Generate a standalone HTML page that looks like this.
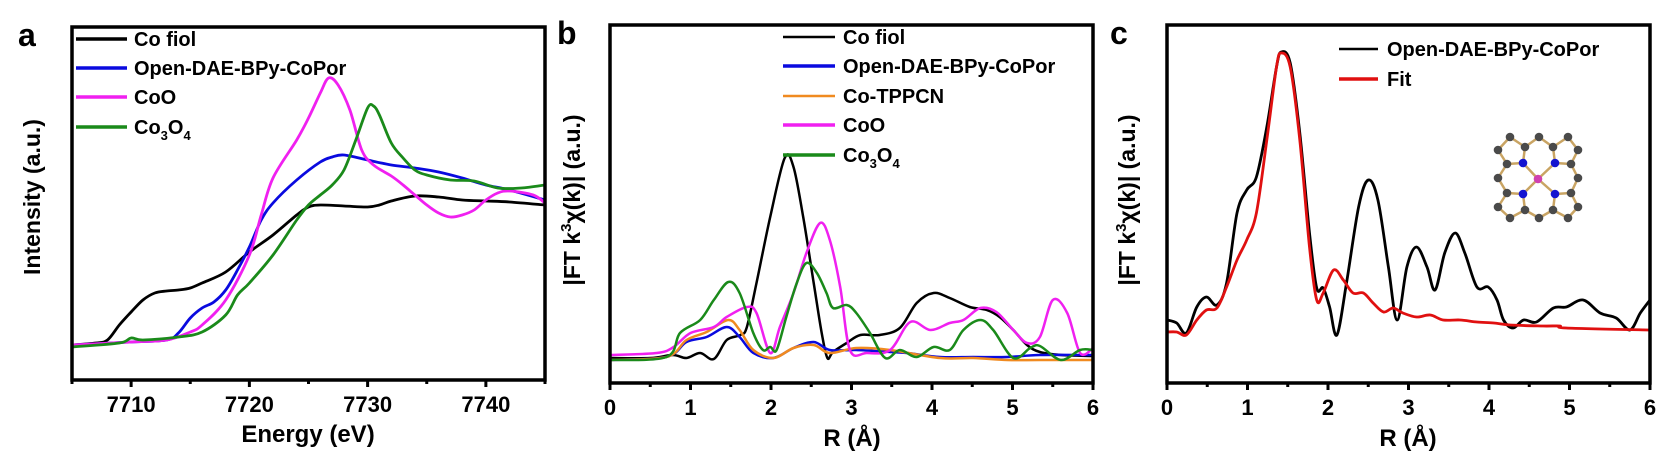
<!DOCTYPE html>
<html><head><meta charset="utf-8"><style>
html,body{margin:0;padding:0;background:#fff;}
svg{display:block;font-family:"Liberation Sans",Arial,sans-serif;font-weight:bold;}
</style></head><body>
<svg id="fig" width="1673" height="469" viewBox="0 0 1673 469" xmlns="http://www.w3.org/2000/svg">
<rect width="1673" height="469" fill="#fff"/>
<g id="pa"></g>
<g id="pb"></g>
<g id="pc"></g>
</svg>
<script>
// ---------- Panel a data (XANES) ----------
const aXTicks = [7710, 7720, 7730, 7740];
const aMinor = [7705, 7715, 7725, 7735, 7745];
const aCoFoilE = [7705,7707,7708,7709,7710,7711,7712,7713,7714,7715,7716,7718,7720,7722,7724,7725,7726,7728,7730,7731,7732,7734,7736,7738,7740,7742,7745];
const aCoFoilI = [35,37,40,55,68,80,87,89,90,92,97,108,128,145,165,173,175,174,173,175,179,184,183,180,179,178,175];
const aPorE = [7705,7710,7713,7714,7715,7716,7717,7718,7719,7720,7721,7722,7724,7726,7727,7728,7730,7732,7734,7736,7738,7740,7742,7745];
const aPorI = [35,38,40,47,62,72,78,90,110,133,160,177,200,218,223,225,220,215,212,208,202,195,190,180];
const aCoOE = [7705,7710,7713,7715,7716,7718,7720,7721,7722,7724,7725,7726,7726.7,7727.5,7728.5,7729.5,7730.5,7732,7733,7734,7735,7736,7737,7738,7739,7740,7741,7742,7744,7745];
const aCoOI = [35,38,40,48,55,80,125,165,202,240,262,287,302,295,270,230,215,204,195,185,175,167,163,165,170,180,187,189,185,177];
const aCo3O4E = [7705,7709,7710,7711,7714,7716,7718,7719,7720,7722,7724,7725,7726,7727,7728,7729,7730,7730.5,7731,7732,7733,7734,7735,7737,7739,7741,7743,7745];
const aCo3O4I = [33,37,42,40,43,48,65,85,97,125,160,175,185,195,210,240,272,274,265,237,222,210,205,200,199,192,192,195];

// ---------- Panel b data (FT-EXAFS) ----------
const bXTicks = [0,1,2,3,4,5,6];
const bMinor = [0.5,1.5,2.5,3.5,4.5,5.5];
const bFoilR = [0,0.5,0.78,0.95,1.12,1.29,1.45,1.62,1.70,1.82,1.99,2.17,2.28,2.40,2.53,2.63,2.70,2.77,2.94,3.11,3.35,3.60,3.81,4.02,4.22,4.47,4.68,4.84,5.01,5.18,5.34,5.6,6.0];
const bFoilV = [25,25,28,25,30,24,43,48,56,100,166,225,216,166,100,50,25,31,40,48,48,55,80,90,85,76,73,66,53,38,31,28,27];
const bPorR = [0,0.70,0.95,1.2,1.45,1.61,1.78,2.03,2.28,2.53,2.73,3.06,3.48,3.69,4.10,4.51,4.93,5.34,6.0];
const bPorV = [23,26,41,46,56,46,30,25,35,41,33,33,31,30,26,26,26,28,28];
const bTppR = [0,0.70,0.95,1.2,1.47,1.61,1.78,2.03,2.28,2.53,2.73,3.06,3.48,4.10,4.51,4.93,5.34,6.0];
const bTppV = [23,26,43,51,63,53,33,25,35,38,30,35,33,25,25,23,23,23];
const bCoOR = [0,0.58,0.79,1.0,1.29,1.45,1.70,1.82,1.99,2.11,2.28,2.44,2.61,2.73,2.86,2.98,3.19,3.48,3.73,3.98,4.22,4.39,4.60,4.80,5.01,5.18,5.34,5.5,5.68,5.84,6.0];
const bCoOV = [28,30,36,50,56,66,76,70,30,56,90,130,160,143,96,33,30,33,61,53,60,63,75,71,53,40,46,83,70,30,35];
const bCo3O4R = [0,0.70,0.87,1.12,1.29,1.47,1.61,1.78,1.90,1.99,2.07,2.19,2.32,2.44,2.57,2.69,2.77,2.94,3.06,3.23,3.42,3.60,3.81,4.02,4.22,4.39,4.60,4.76,5.01,5.22,5.34,5.6,5.84,6.0];
const bCo3O4V = [23,26,50,63,83,101,90,50,33,36,33,66,100,120,110,90,75,78,70,50,25,33,26,36,33,53,63,53,25,35,37,23,33,33];

// ---------- Panel c data (fit) ----------
const cExpR = [0,0.12,0.24,0.37,0.49,0.62,0.74,0.87,0.99,1.11,1.24,1.36,1.42,1.53,1.65,1.77,1.86,1.94,2.02,2.11,2.23,2.38,2.50,2.62,2.75,2.86,2.98,3.10,3.23,3.33,3.45,3.58,3.70,3.85,3.99,4.10,4.18,4.30,4.43,4.59,4.80,4.96,5.17,5.38,5.58,5.75,5.88,6.0];
const cExpV = [63,60,50,76,86,78,100,170,193,206,256,316,331,320,250,150,95,95,76,48,100,176,203,183,116,63,116,136,116,93,130,150,130,96,96,83,63,55,63,61,75,76,83,70,65,53,70,83];
const cFitR = [0,0.12,0.24,0.37,0.49,0.62,0.74,0.87,0.99,1.11,1.24,1.36,1.42,1.53,1.65,1.77,1.86,1.94,2.07,2.19,2.31,2.44,2.56,2.69,2.81,2.93,3.10,3.27,3.43,3.64,3.85,4.06,4.26,4.67,4.88,4.96,6.0];
const cFitV = [51,51,48,63,73,75,96,123,143,170,243,316,330,316,243,136,83,90,113,103,90,90,80,71,75,70,66,68,63,63,61,60,58,57,57,55,53];

const NS = "http://www.w3.org/2000/svg";
function mk(parent, tag, attrs, text) {
  const e = document.createElementNS(NS, tag);
  for (const k in attrs) e.setAttribute(k, attrs[k]);
  if (text !== undefined) e.textContent = text;
  parent.appendChild(e);
  return e;
}
function smoothPath(pts) {
  let d = "M" + pts[0][0].toFixed(1) + "," + pts[0][1].toFixed(1);
  for (let i = 0; i < pts.length - 1; i++) {
    const p0 = pts[Math.max(0, i - 1)], p1 = pts[i], p2 = pts[i + 1], p3 = pts[Math.min(pts.length - 1, i + 2)];
    const c1x = p1[0] + (p2[0] - p0[0]) / 6, c1y = p1[1] + (p2[1] - p0[1]) / 6;
    const c2x = p2[0] - (p3[0] - p1[0]) / 6, c2y = p2[1] - (p3[1] - p1[1]) / 6;
    d += "C" + c1x.toFixed(1) + "," + c1y.toFixed(1) + " " + c2x.toFixed(1) + "," + c2y.toFixed(1) + " " + p2[0].toFixed(1) + "," + p2[1].toFixed(1);
  }
  return d;
}
function panel(g, box, xd, yd, xTicks, minor, tickFmt) {
  const sx = v => box.l + (v - xd[0]) / (xd[1] - xd[0]) * (box.r - box.l);
  const sy = v => box.b - (v - yd[0]) / (yd[1] - yd[0]) * (box.b - box.t);
  const clip = mk(g, "clipPath", {id: g.id + "-clip"});
  mk(clip, "rect", {x: box.l, y: box.t, width: box.r - box.l, height: box.b - box.t});
  for (const t of xTicks) {
    const tk = mk(g, "line", {x1: sx(t), x2: sx(t), y1: box.b, y2: box.b + 7, stroke: "#000", "stroke-width": 3});
    
    
    const lb = mk(g, "text", {x: sx(t), y: box.b + 32, "text-anchor": "middle", "font-size": 22}, tickFmt(t));
    
    
  }
  for (const t of minor) {
    const mt = mk(g, "line", {x1: sx(t), x2: sx(t), y1: box.b, y2: box.b + 4, stroke: "#000", "stroke-width": 3});
    
    
  }
  return {sx, sy};
}
function series(g, s, xs, ys, color, w, name) {
  const pts = xs.map((x, i) => [s.sx(x), s.sy(ys[i])]);
  const p = mk(g, "path", {d: smoothPath(pts), fill: "none", stroke: color, "stroke-width": w, "stroke-linejoin": "round", "clip-path": "url(#" + g.id + "-clip)"});
  
  
}
function frame(g, box) {
  const f = mk(g, "rect", {x: box.l, y: box.t, width: box.r - box.l, height: box.b - box.t, fill: "none", stroke: "#000", "stroke-width": 3.5});
  
  
}
function legend(g, x1, x2, tx, items, fs) {
  for (const it of items) {
    const l = mk(g, "line", {x1: x1, x2: x2, y1: it.y, y2: it.y, stroke: it.c, "stroke-width": it.w || 3.5});
    
    
    const t = mk(g, "text", {x: tx, y: it.y + 7, "font-size": fs});
    
    
    if (it.sub) {
      t.textContent = "Co";
      mk(t, "tspan", {"font-size": fs * 0.65, dy: 6}, "3");
      mk(t, "tspan", {dy: -6}, "O");
      mk(t, "tspan", {"font-size": fs * 0.65, dy: 6}, "4");
    } else t.textContent = it.t;
  }
}
function ftTitle(g, x, y) {
  const t = mk(g, "text", {transform: "translate(" + x + "," + y + ") rotate(-90)", "text-anchor": "middle", "font-size": 23});
  
  
  t.textContent = "|FT k";
  mk(t, "tspan", {"font-size": 15, dy: -9}, "3");
  mk(t, "tspan", {dy: 9}, "\u03C7(k)| (a.u.)");
}

// Panel a
const ga = document.getElementById("pa");
const boxA = {l: 72, r: 545, t: 27, b: 380};
const sa = panel(ga, boxA, [7705, 7745], [0, 353], aXTicks, aMinor, t => String(t));
series(ga, sa, aCoFoilE, aCoFoilI, "#000", 2.8, "co-foil-line");
series(ga, sa, aPorE, aPorI, "#0a0adf", 2.8, "open-dae-bpy-copor-line");
series(ga, sa, aCoOE, aCoOI, "#f020f0", 2.8, "coo-line");
series(ga, sa, aCo3O4E, aCo3O4I, "#1a8a1a", 2.8, "co3o4-line");
frame(ga, boxA);
legend(ga, 76, 127, 134, [{y: 39, c: "#000", t: "Co fiol"}, {y: 68, c: "#0a0adf", t: "Open-DAE-BPy-CoPor"}, {y: 97, c: "#f020f0", t: "CoO"}, {y: 127, c: "#1a8a1a", sub: true}], 20);
mk(ga, "text", {x: 18, y: 46, "font-size": 32,  }, "a");
mk(ga, "text", {transform: "translate(40,197) rotate(-90)", "text-anchor": "middle", "font-size": 23,  }, "Intensity (a.u.)");
mk(ga, "text", {x: 308, y: 442, "text-anchor": "middle", "font-size": 24,  }, "Energy (eV)");

// Panel b
const gb = document.getElementById("pb");
const boxB = {l: 610, r: 1093, t: 25, b: 383};
const sb = panel(gb, boxB, [0, 6], [0, 358], bXTicks, bMinor, t => String(t));
series(gb, sb, bFoilR, bFoilV, "#000", 2.5, "co-foil-line");
series(gb, sb, bPorR, bPorV, "#0a0adf", 2.5, "open-dae-bpy-copor-line");
series(gb, sb, bTppR, bTppV, "#f08a20", 2.5, "co-tppcn-line");
series(gb, sb, bCoOR, bCoOV, "#f020f0", 2.5, "coo-line");
series(gb, sb, bCo3O4R, bCo3O4V, "#1a8a1a", 2.5, "co3o4-line");
frame(gb, boxB);
legend(gb, 783, 835, 843, [{y: 37, c: "#000", t: "Co fiol", w: 2.5}, {y: 66, c: "#0a0adf", t: "Open-DAE-BPy-CoPor"}, {y: 96, c: "#f08a20", t: "Co-TPPCN", w: 2.5}, {y: 125, c: "#f020f0", t: "CoO"}, {y: 155, c: "#1a8a1a", sub: true}], 20);
mk(gb, "text", {x: 557, y: 44, "font-size": 32,  }, "b");
ftTitle(gb, 580, 200);
mk(gb, "text", {x: 852, y: 446, "text-anchor": "middle", "font-size": 24,  }, "R (\u00C5)");

// Panel c
const gc = document.getElementById("pc");
const boxC = {l: 1167, r: 1650, t: 25, b: 383};
const sc = panel(gc, boxC, [0, 6], [0, 358], bXTicks, bMinor, t => String(t));
series(gc, sc, cExpR, cExpV, "#000", 2.8, "experimental-line");
series(gc, sc, cFitR, cFitV, "#e01010", 2.8, "fit-line");
frame(gc, boxC);
legend(gc, 1339, 1378, 1387, [{y: 49, c: "#000", t: "Open-DAE-BPy-CoPor", w: 2.5}, {y: 79, c: "#e01010", t: "Fit"}], 20);
mk(gc, "text", {x: 1110, y: 44, "font-size": 32,  }, "c");
ftTitle(gc, 1135, 200);
mk(gc, "text", {x: 1408, y: 446, "text-anchor": "middle", "font-size": 24,  }, "R (\u00C5)");

// Molecule inset (decorative structure)
const mol = mk(gc, "g", { });
const C = [[1510,137],[1525,147],[1539,137],[1553,147],[1568,137],[1578,150],[1571,164],[1578,178],[1571,193],[1578,207],[1568,218],[1553,210],[1539,218],[1525,210],[1510,218],[1498,207],[1507,193],[1498,178],[1507,164],[1498,150]];
const N = [[1523,163],[1555,163],[1523,194],[1555,194]];
const bonds = [];
for (let i = 0; i < C.length; i++) bonds.push([C[i], C[(i + 1) % C.length]]);
bonds.push([N[0], C[1]], [N[0], C[18]], [N[1], C[3]], [N[1], C[6]], [N[2], C[16]], [N[2], C[13]], [N[3], C[8]], [N[3], C[11]]);
for (const n of N) bonds.push([n, [1538, 179]]);
for (const b of bonds) mk(mol, "line", {x1: b[0][0], y1: b[0][1], x2: b[1][0], y2: b[1][1], stroke: "#c9a463", "stroke-width": 2.5});
for (const c of C) mk(mol, "circle", {cx: c[0], cy: c[1], r: 4.3, fill: "#4a4a4a"});
for (const n of N) mk(mol, "circle", {cx: n[0], cy: n[1], r: 4.3, fill: "#1414d0"});
mk(mol, "circle", {cx: 1538, cy: 179, r: 4.3, fill: "#d040b0"});
</script>
</body></html>
